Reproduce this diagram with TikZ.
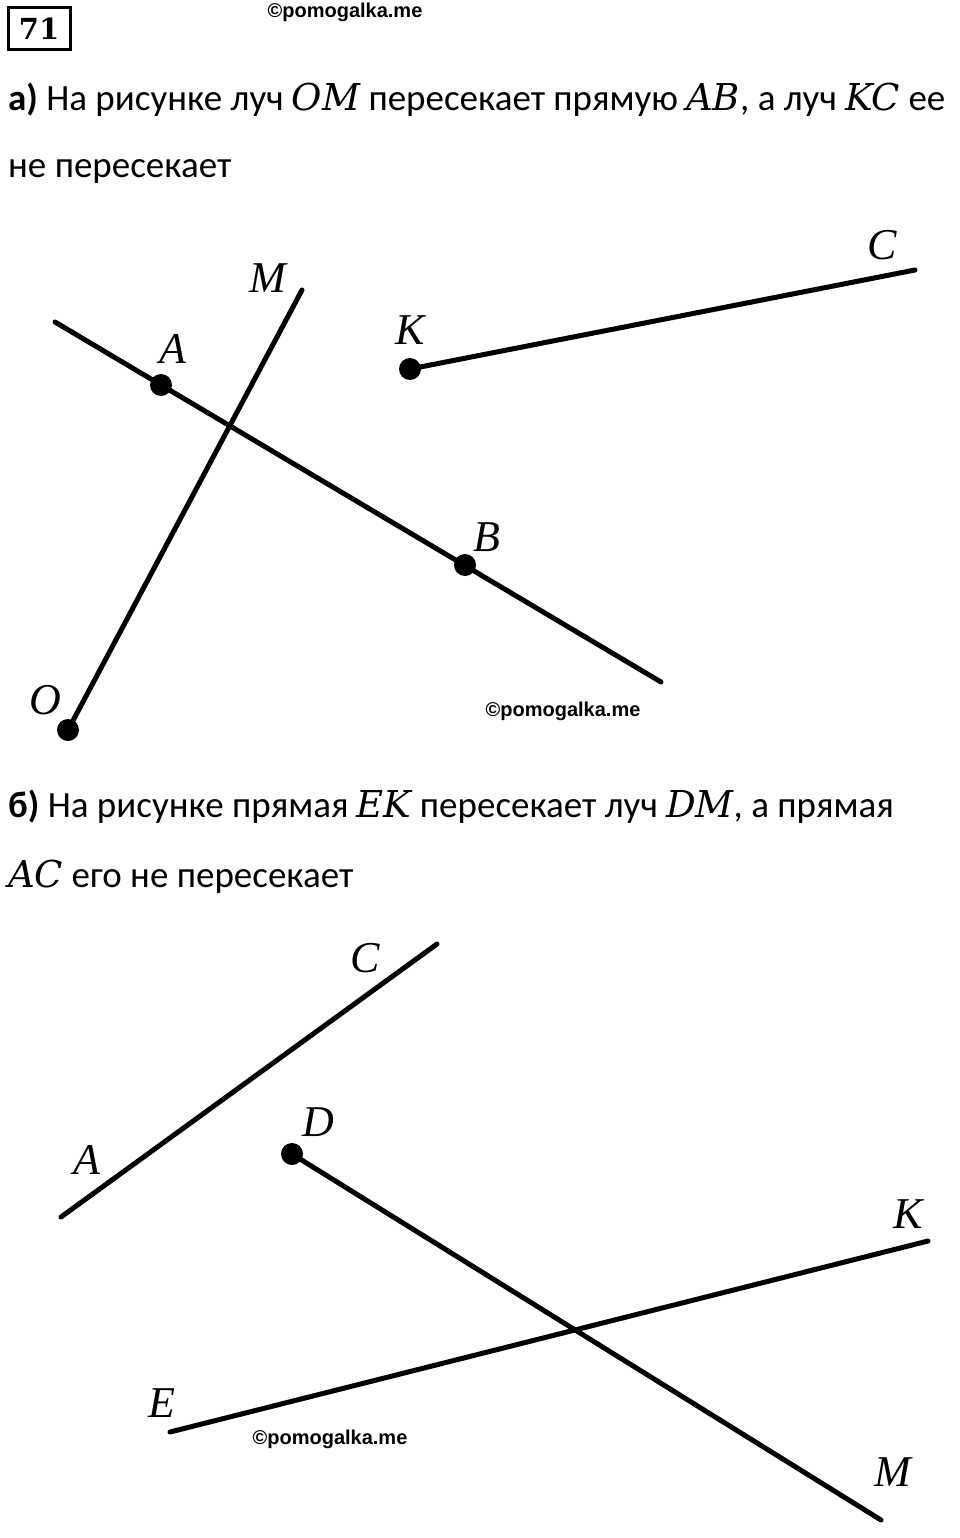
\documentclass[tikz,border=0pt]{standalone}
\usepackage{fontspec}
\setmainfont{Carlito}
\newfontfamily\letterfont{DejaVu Serif}
\newfontfamily\labelfont{Liberation Serif}
\newfontfamily\markfont{Liberation Sans}
\newcommand{\mlet}[1]{{\letterfont\itshape #1}}

\begin{document}
\begin{tikzpicture}[
        x=1pt, y=-1pt,
        task/.style={anchor=base west, inner sep=0pt, font=\fontsize{37}{44}\selectfont},
        ptlabel/.style={inner sep=0pt, font=\labelfont\itshape\fontsize{44}{44}\selectfont},
        watermark/.style={inner sep=0pt, font=\markfont\bfseries\fontsize{20}{20}\selectfont},
        figline/.style={line width=5pt, line cap=round},
        dot/.style={fill=black}
    ]
        \useasboundingbox (0,0) rectangle (960,1538);

        % Number and watermark
        \node[draw, line width=3pt, inner sep=0pt, minimum width=62pt, minimum height=42pt,
              font=\letterfont\bfseries\fontsize{29}{29}\selectfont] (num) at (39,29) {71};
        \node[watermark] (wmTop) at (345,12) {©pomogalka.me};

        % Part a: text
        \node[task] (textA1) at (8,111) {\textbf{а)} На рисунке луч \mlet{OM} пересекает прямую \mlet{AB}, а луч \mlet{KC} ее};
        \node[task] (textA2) at (8,178) {не пересекает};

        % Part a: points
        \coordinate (aLeft) at (55,322);
        \coordinate (aRight) at (661,682);
        \coordinate (aA) at (161,385);
        \coordinate (aB) at (465,565);
        \coordinate (aO) at (68,730);
        \coordinate (aM) at (302,290);
        \coordinate (aK) at (410,369);
        \coordinate (aC) at (915,270);

        \draw[figline] (aLeft) -- (aRight);
        \draw[figline] (aO) -- (aM);
        \draw[figline] (aK) -- (aC);
        \foreach \p in {aA, aB, aO, aK} {
            \fill[dot] (\p) circle (11);
        }

        \node[ptlabel] (labAM) at (268,278) {M};
        \node[ptlabel] (labAA) at (173,349) {A};
        \node[ptlabel] (labAK) at (410,330) {K};
        \node[ptlabel] (labAC) at (882,245) {C};
        \node[ptlabel] (labAB) at (487,537) {B};
        \node[ptlabel] (labAO) at (45,700) {O};
        \node[watermark] (wmA) at (563,711) {©pomogalka.me};

        % Part b: text
        \node[task] (textB1) at (8,817) {\textbf{б)} На рисунке прямая \mlet{EK} пересекает луч \mlet{DM}, а прямая};
        \node[task] (textB2) at (8,887) {\mlet{AC} его не пересекает};

        % Part b: points
        \coordinate (bA) at (61,1217);
        \coordinate (bC) at (437,944);
        \coordinate (bD) at (292,1154);
        \coordinate (bM) at (881,1520);
        \coordinate (bE) at (170,1432);
        \coordinate (bK) at (928,1241);

        \draw[figline] (bA) -- (bC);
        \draw[figline] (bD) -- (bM);
        \draw[figline] (bE) -- (bK);
        \fill[dot] (bD) circle (11);

        \node[ptlabel] (labBC) at (365,958) {C};
        \node[ptlabel] (labBA) at (87,1160) {A};
        \node[ptlabel] (labBD) at (318,1122) {D};
        \node[ptlabel] (labBK) at (908,1214) {K};
        \node[ptlabel] (labBE) at (162,1403) {E};
        \node[ptlabel] (labBM) at (893,1472) {M};
        \node[watermark] (wmB) at (330,1439) {©pomogalka.me};
    \end{tikzpicture}
\end{document}
